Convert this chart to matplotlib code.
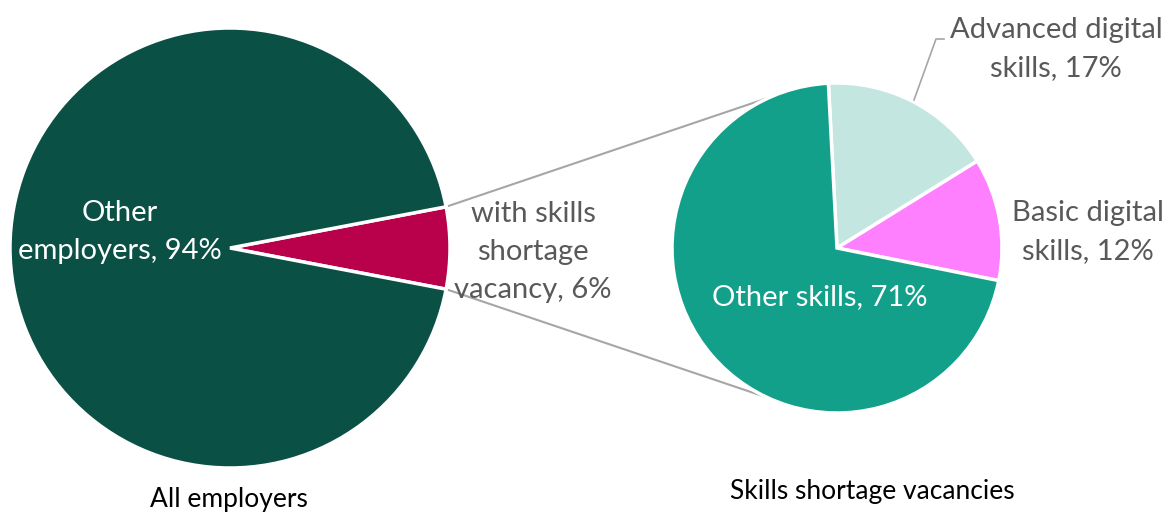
import numpy as np
import matplotlib.pyplot as plt

# Main pie: all employers
main_labels = ["with skills\nshortage\nvacancy, 6%", "Other\nemployers, 94%"]
main_values = [6, 94]
main_colors = ["#B9004B", "#0A5045"]

# Breakdown of the skills shortage vacancies
sub_labels = ["Advanced digital\nskills, 17%", "Basic digital\nskills, 12%", "Other skills, 71%"]
sub_values = [17, 12, 71]
sub_colors = ["#C4E6E0", "#FF80FF", "#13A08A"]

titles = ["All employers", "Skills shortage vacancies"]

plt.rcParams["font.family"] = ["Lato", "DejaVu Sans"]

W, H = 1167, 514
fig = plt.figure(figsize=(W / 100, H / 100), dpi=100)
ax = fig.add_axes([0, 0, 1, 1])

c1, r1 = (230, 266), 220
c2, r2 = (837, 266), 165

half = 360 * main_values[0] / sum(main_values) / 2
ax.pie(main_values, colors=main_colors, startangle=-half, counterclock=True,
       center=c1, radius=r1, frame=True,
       wedgeprops=dict(edgecolor="white", linewidth=2.5))
ax.pie(sub_values, colors=sub_colors, startangle=93, counterclock=False,
       center=c2, radius=r2, frame=True,
       wedgeprops=dict(edgecolor="white", linewidth=2.5))
ax.set_xlim(0, W)
ax.set_ylim(0, H)
ax.set_aspect("equal")
ax.axis("off")

# connector lines from the small slice to the second pie
for a1, a2 in [(half, 114), (-half, -115)]:
    p = (c1[0] + r1 * np.cos(np.radians(a1)), c1[1] + r1 * np.sin(np.radians(a1)))
    q = (c2[0] + r2 * np.cos(np.radians(a2)), c2[1] + r2 * np.sin(np.radians(a2)))
    ax.plot([p[0], q[0]], [p[1], q[1]], color="#A6A6A6", lw=1.5, zorder=0)

grey = "#595959"
fs = 21
ls = 1.55
ax.text(120, H - 232, main_labels[1], color="white", fontsize=fs,
        ha="center", va="center", linespacing=ls, multialignment="center")
ax.text(533, H - 252, main_labels[0], color=grey, fontsize=fs,
        ha="center", va="center", linespacing=ls, multialignment="center")
ax.text(1056, H - 49, sub_labels[0], color=grey, fontsize=fs,
        ha="center", va="center", linespacing=ls, multialignment="center")
ax.text(1088, H - 232, sub_labels[1], color=grey, fontsize=fs,
        ha="center", va="center", linespacing=ls, multialignment="center")
ax.text(820, H - 297, sub_labels[2], color="white", fontsize=fs,
        ha="center", va="center")

# leader line for the advanced digital label
ax.plot([914, 936, 944], [H - 100, H - 39, H - 39], color="#A6A6A6", lw=1.2)

ax.text(229, H - 500, titles[0], color="black", fontsize=19,
        ha="center", va="center")
ax.text(872, H - 492, titles[1], color="black", fontsize=19,
        ha="center", va="center")

fig.savefig("out.png", dpi=100)
